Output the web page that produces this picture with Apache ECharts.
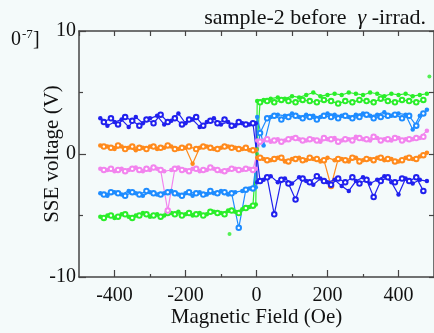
<!DOCTYPE html>
<html>
<head>
<meta charset="utf-8">
<script src="https://cdn.jsdelivr.net/npm/echarts@6/dist/echarts.min.js"></script>
<style>
html,body{margin:0;padding:0;background:#f4fafa;}
#c{width:434px;height:333px;}
</style>
</head>
<body>
<div id="c"></div>
<script>
// x positions (Oe) of the two interleaved sweeps
const fieldA = [-440,-420,-400,-380,-360,-340,-320,-300,-280,-260,-240,-220,-200,-180,-160,-140,-120,-100,-80,-60,-40,-20,-2,2,20,40,60,80,100,120,140,160,180,200,220,240,260,280,300,320,340,360,380,400,420,440,460,480];
const fieldB = [-430,-410,-390,-370,-350,-330,-310,-290,-270,-250,-230,-210,-190,-170,-150,-130,-110,-90,-70,-50,-30,-10,10,30,50,70,90,110,130,150,170,190,210,230,250,270,290,310,330,350,370,390,410,430,450,470];

// SSE voltage [1e-7 V]
const darkBlueA = [2.9,2.3,2.6,2.8,2.2,3.0,2.5,2.9,3.1,2.4,2.7,3.3,2.5,2.8,2.2,2.6,2.9,2.4,2.6,2.3,2.5,2.4,2.5,-2.3,-2.1,-1.8,-2.3,-2.0,-2.4,-1.9,-2.2,-2.5,-2.0,-2.3,-2.1,-2.6,-3.0,-2.2,-1.9,-2.4,-2.1,-1.8,-2.3,-3.3,-2.0,-2.4,-2.1,-2.2];
const darkBlueB = [2.6,2.9,2.4,3.0,2.7,2.3,2.8,2.5,3.2,2.6,2.9,2.4,2.8,3.0,2.3,2.7,2.5,2.8,2.3,2.6,2.4,2.5,-2.2,-1.9,-4.9,-2.1,-2.4,-3.7,-2.0,-2.3,-1.8,-2.2,-2.5,-2.0,-2.3,-1.9,-2.4,-2.1,-3.5,-2.2,-1.9,-2.3,-2.0,-2.2,-1.9,-3.0];
const orangeA = [0.7,0.6,0.4,0.6,0.5,0.3,0.5,0.6,0.4,0.5,0.6,0.4,0.5,-0.8,0.5,0.6,0.4,0.5,0.6,0.5,0.4,0.3,0.3,-0.3,-0.4,-0.5,-0.3,-0.6,-0.4,-0.3,-0.5,-0.4,-0.6,-0.3,-0.5,-0.4,-0.6,-0.3,-0.5,-0.4,-0.3,-0.5,-0.4,-0.6,-0.3,-0.4,-0.2,0.1];
const orangeB = [0.6,0.5,0.7,0.4,0.6,0.5,0.4,0.6,0.5,0.7,0.4,0.5,0.6,0.4,0.6,0.5,0.4,0.6,0.5,0.4,0.5,0.3,-0.3,-0.5,-0.4,-0.3,-0.6,-0.4,-0.5,-0.3,-0.4,-0.5,-2.6,-0.4,-0.5,-0.3,-0.6,-0.4,-0.5,-0.3,-0.4,-0.6,-0.5,-0.3,-0.4,-0.1];
const pinkA = [-1.2,-1.3,-1.4,-1.2,-1.3,-1.1,-1.4,-1.3,-1.2,-1.4,-1.3,-1.1,-1.3,-1.2,-1.4,-1.3,-1.2,-1.4,-1.3,-1.2,-1.3,-1.2,-1.2,1.1,1.1,1.0,1.2,1.1,1.3,1.2,1.1,1.2,1.0,1.2,1.3,1.1,1.2,1.4,1.2,1.1,1.3,1.2,1.1,1.3,1.2,1.2,1.3,1.9];
const pinkB = [-1.3,-1.2,-1.3,-1.4,-1.2,-1.3,-1.2,-1.1,-1.3,-4.6,-1.2,-1.3,-1.4,-1.2,-1.3,-1.1,-1.3,-1.4,-1.2,-1.3,-1.2,-1.3,1.0,1.2,1.1,1.0,1.2,1.3,1.1,1.2,1.1,1.3,1.2,1.0,1.2,1.1,1.3,1.2,1.4,1.1,1.2,1.3,1.1,1.2,1.3,1.4];
const lightBlueA = [-3.2,-3.4,-3.1,-3.3,-3.0,-3.2,-3.4,-3.1,-3.3,-3.2,-3.0,-3.3,-3.2,-3.4,-3.1,-3.3,-3.2,-3.0,-3.3,-3.1,-3.0,-2.8,-2.7,3.0,0.7,3.0,3.2,3.1,3.3,3.0,3.2,3.1,3.0,3.3,3.2,3.1,3.0,3.2,3.3,3.1,3.2,3.4,3.1,3.3,3.2,2.0,3.1,3.6];
const lightBlueB = [-3.3,-3.1,-3.2,-3.4,-3.1,-3.3,-3.0,-3.2,-3.3,-3.1,-3.2,-3.4,-3.1,-3.2,-3.3,-3.0,-3.2,-3.1,-3.2,-6.0,-2.9,-2.8,1.7,2.9,3.1,2.8,3.0,3.1,2.9,3.0,2.8,3.1,3.0,2.9,3.1,2.9,3.0,3.2,2.9,3.0,3.1,3.2,2.9,3.1,2.3,3.3];
const greenA = [-5.1,-5.0,-5.2,-4.9,-5.1,-5.0,-4.8,-5.1,-4.9,-5.0,-4.8,-4.7,-4.9,-5.0,-4.8,-4.9,-4.7,-4.8,-4.6,-4.7,-4.5,-4.3,-4.1,4.3,4.4,4.5,4.6,4.5,4.7,4.6,4.8,5.0,4.7,4.8,4.9,4.8,5.0,4.9,4.8,5.0,4.9,4.7,4.9,4.8,4.9,4.7,4.8,4.9];
const greenB = [-5.2,-5.0,-5.1,-4.9,-5.2,-5.0,-4.9,-5.0,-5.1,-4.8,-4.9,-5.0,-4.8,-4.9,-5.0,-4.7,-4.8,-4.9,-4.6,-4.8,-4.4,-4.2,4.2,4.3,4.2,4.4,4.3,4.2,4.4,4.3,4.2,4.4,4.3,4.1,4.3,4.2,4.4,4.3,4.2,4.5,4.3,4.2,4.4,4.3,4.2,4.4];
const greenStrayField = [-76, 2, 2, 487];
const greenStrayValue = [-6.5, 0.4, 0.0, 6.3];

const xMajorTicks = [-400,-200,0,200,400];
const xMinorTicks = [-300,-100,100,300];
const yMajorTicks = [-10,0,10];
const yMinorTicks = [-5,5];

const titleText = 'sample-2 before  ';
const titleGreek = 'γ';
const titleTail = ' -irrad.';

const FONT = 'Liberation Serif, Times New Roman, serif';
const AX = '#444';

function zip(xs, ys){ return xs.map((x,i)=>[x, ys[i]]); }
function trace(name, color, xs, ys, hollow){
  return {
    type:'line', name, data: zip(xs, ys), xAxisIndex:0, yAxisIndex:0,
    symbol: hollow ? 'emptyCircle' : 'circle', symbolSize: 4.5,
    showSymbol:true, animation:false,
    lineStyle:{color, width:1.2},
    itemStyle:{color, borderColor:color, borderWidth: hollow?1.2:0},
    z: 2
  };
}

const chart = echarts.init(document.getElementById('c'), null, {renderer:'canvas'});
chart.setOption({
  backgroundColor:'#f4fafa',
  animation:false,
  title:{
    text: '{a|' + titleText + '}{g|' + titleGreek + '}{a|' + titleTail + '}',
    right: 8, top: 7, padding: 0,
    textStyle:{
      fontWeight:'normal',
      rich:{
        a:{fontFamily:FONT, fontSize:22, color:'#111', fontWeight:'normal'},
        g:{fontFamily:FONT, fontSize:22, color:'#111', fontStyle:'italic', fontWeight:'normal'}
      }
    }
  },
  grid:{left:79, right:0, top:31, bottom:50},
  xAxis:[
    {type:'value', position:'bottom', min:-500, max:500, interval:100,
     axisLine:{show:true, onZero:false, lineStyle:{color:AX, width:1.5}},
     axisTick:{show:true, inside:true, length:7, customValues:xMajorTicks, lineStyle:{color:AX, width:1.2}},
     axisLabel:{show:true, customValues:xMajorTicks, fontFamily:FONT, fontSize:20, color:'#111', margin:9},
     splitLine:{show:false},
     name:'Magnetic Field (Oe)', nameLocation:'middle', nameGap:30, nameMoveOverlap:false,
     nameTextStyle:{fontFamily:FONT, fontSize:21, color:'#111'}
    },
    {type:'value', position:'bottom', min:-500, max:500, interval:100,
     axisLine:{show:false, onZero:false},
     axisTick:{show:true, inside:true, length:3, customValues:xMinorTicks, lineStyle:{color:AX, width:1.2}},
     axisLabel:{show:false}, splitLine:{show:false}
    },
    {type:'value', position:'top', min:-500, max:500, interval:100,
     axisLine:{show:true, onZero:false, lineStyle:{color:AX, width:1.5}},
     axisTick:{show:true, inside:true, length:5, lineStyle:{color:AX, width:1.2}},
     axisLabel:{show:false}, splitLine:{show:false}
    }
  ],
  yAxis:[
    {type:'value', position:'left', min:-10, max:10, interval:5,
     axisLine:{show:true, onZero:false, lineStyle:{color:AX, width:1.5}},
     axisTick:{show:true, inside:true, length:7, customValues:yMajorTicks, lineStyle:{color:AX, width:1.2}},
     axisLabel:{show:true, customValues:yMajorTicks, fontFamily:FONT, fontSize:20, color:'#111', margin:3},
     splitLine:{show:false},
     name:'SSE voltage (V)', nameLocation:'middle', nameGap:16, nameRotate:90, nameMoveOverlap:false,
     nameTextStyle:{fontFamily:FONT, fontSize:21, color:'#111'}
    },
    {type:'value', position:'left', min:-10, max:10, interval:5,
     axisLine:{show:false, onZero:false},
     axisTick:{show:true, inside:true, length:4, customValues:yMinorTicks, lineStyle:{color:AX, width:1.2}},
     axisLabel:{show:false}, splitLine:{show:false}
    },
    {type:'value', position:'right', min:-10, max:10, interval:5,
     axisLine:{show:true, onZero:false, lineStyle:{color:AX, width:1.5}},
     axisTick:{show:true, inside:true, length:5, lineStyle:{color:AX, width:1.2}},
     axisLabel:{show:false}, splitLine:{show:false}
    }
  ],
  graphic:[
    {type:'text', left:11, top:30, style:{text:'0', font:'20px ' + FONT, fill:'#111'}},
    {type:'text', left:22, top:28, style:{text:'-7', font:'13px ' + FONT, fill:'#111'}},
    {type:'text', left:33, top:30, style:{text:']', font:'20px ' + FONT, fill:'#111'}}
  ],
  series:[
    trace('greenA','#2aee2a',fieldA,greenA,false),
    trace('greenB','#2aee2a',fieldB,greenB,true),
    {type:'scatter', name:'greenStray', data: zip(greenStrayField, greenStrayValue), symbol:'circle', symbolSize:4,
     itemStyle:{color:'#2aee2a'}, xAxisIndex:0, yAxisIndex:0},
    trace('lightBlueA','#1e8cff',fieldA,lightBlueA,false),
    trace('lightBlueB','#1e8cff',fieldB,lightBlueB,true),
    trace('pinkA','#f284ee',fieldA,pinkA,false),
    trace('pinkB','#f284ee',fieldB,pinkB,true),
    trace('orangeA','#ff8a1c',fieldA,orangeA,false),
    trace('orangeB','#ff8a1c',fieldB,orangeB,true),
    trace('darkBlueA','#2020ee',fieldA,darkBlueA,false),
    trace('darkBlueB','#2020ee',fieldB,darkBlueB,true)
  ]
});
</script>
</body>
</html>
